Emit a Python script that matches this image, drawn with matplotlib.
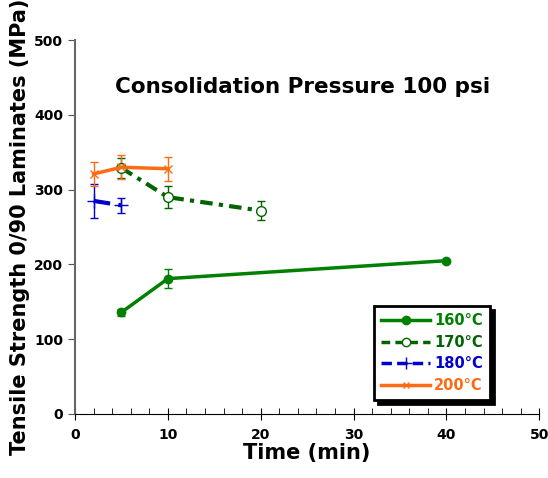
import numpy as np
import matplotlib
matplotlib.use("Agg")
import matplotlib.pyplot as plt
from matplotlib.ticker import MultipleLocator
from matplotlib.lines import Line2D

plt.rcParams['font.family'] = ['DejaVu Sans']
plt.rcParams['font.weight'] = 'bold'

# data
t_160 = [5, 10, 40]
s_160 = [136, 181, 205]
e_160 = [5, 13, 0]

t_170 = [5, 10, 20]
s_170 = [329, 290, 272]
e_170 = [13, 15, 13]

t_180 = [2, 5]
s_180 = [285, 279]
e_180 = [23, 10]

t_200 = [2, 5, 10]
s_200 = [321, 330, 328]
e_200 = [16, 16, 16]

labels = ['160°C', '170°C', '180°C', '200°C']
colors = ['#008000', '#006400', '#0000CC', '#FF6A13']

fig = plt.figure(figsize=(5.48, 4.78), dpi=100)
ax = fig.add_axes([0.137, 0.134, 0.847, 0.782])

style_170 = (0, (3, 1.5, 1, 1.5))
style_180 = (0, (4, 2))

ax.errorbar(t_160, s_160, yerr=e_160, color=colors[0], lw=2.5, marker='o',
            ms=6, capsize=3, elinewidth=1)
ax.errorbar(t_170, s_170, yerr=e_170, color=colors[1], lw=3, marker='o',
            mfc='white', ms=7, mew=1, capsize=3, elinewidth=1, ls=style_170)
ax.errorbar(t_180, s_180, yerr=e_180, color=colors[2], lw=3, marker='+',
            ms=10, mew=1, capsize=3, elinewidth=1, ls=style_180)
ax.errorbar(t_200, s_200, yerr=e_200, color=colors[3], lw=2.5, marker='x',
            ms=6, mew=1, capsize=3, elinewidth=1)

ax.set_xlim(0, 50)
ax.set_ylim(0, 500)
ax.xaxis.set_major_locator(MultipleLocator(10))
ax.xaxis.set_minor_locator(MultipleLocator(2))
ax.yaxis.set_major_locator(MultipleLocator(100))
ax.tick_params(axis='x', which='major', direction='inout', length=8, labelsize=10, pad=6)
ax.tick_params(axis='x', which='minor', direction='in', length=4)
ax.tick_params(axis='y', which='major', direction='out', length=5, labelsize=10,
               color='#555555')
for sp in ['top', 'right']:
    ax.spines[sp].set_visible(False)
ax.spines['left'].set_color('#666666')
ax.spines['left'].set_linewidth(1.5)

ax.set_xlabel('Time (min)', fontsize=15, fontweight='bold', labelpad=1)
ax.set_ylabel('Tensile Strength 0/90 Laminates (MPa)', fontsize=15,
              fontweight='bold', labelpad=3)
ax.text(24.5, 437, 'Consolidation Pressure 100 psi', fontsize=15.5,
        fontweight='bold', ha='center', va='center')

handles = [
    Line2D([], [], color=colors[0], lw=2.5, marker='o', ms=6),
    Line2D([], [], color=colors[1], lw=2.5, marker='o', mfc='white', ms=6,
           ls=(0, (2.5, 1.5))),
    Line2D([], [], color=colors[2], lw=2.5, marker='+', ms=8, mew=1,
           ls=(0, (3, 1.5))),
    Line2D([], [], color=colors[3], lw=2.5, marker='x', ms=5, mew=1),
]
leg = ax.legend(handles=handles, labels=labels, loc='lower right',
                bbox_to_anchor=(0.894, 0.037), fontsize=10.5, handlelength=3.3,
                handletextpad=0.3, frameon=True, fancybox=False,
                shadow={'color': 'black', 'alpha': 1, 'ox': 3, 'oy': -3},
                borderpad=0.5, labelspacing=0.45, borderaxespad=0)
leg.get_frame().set_edgecolor('black')
leg.get_frame().set_linewidth(2)
for txt, c in zip(leg.get_texts(), colors):
    txt.set_color(c)
    txt.set_fontweight('bold')

fig.savefig('out.png', dpi=100)
